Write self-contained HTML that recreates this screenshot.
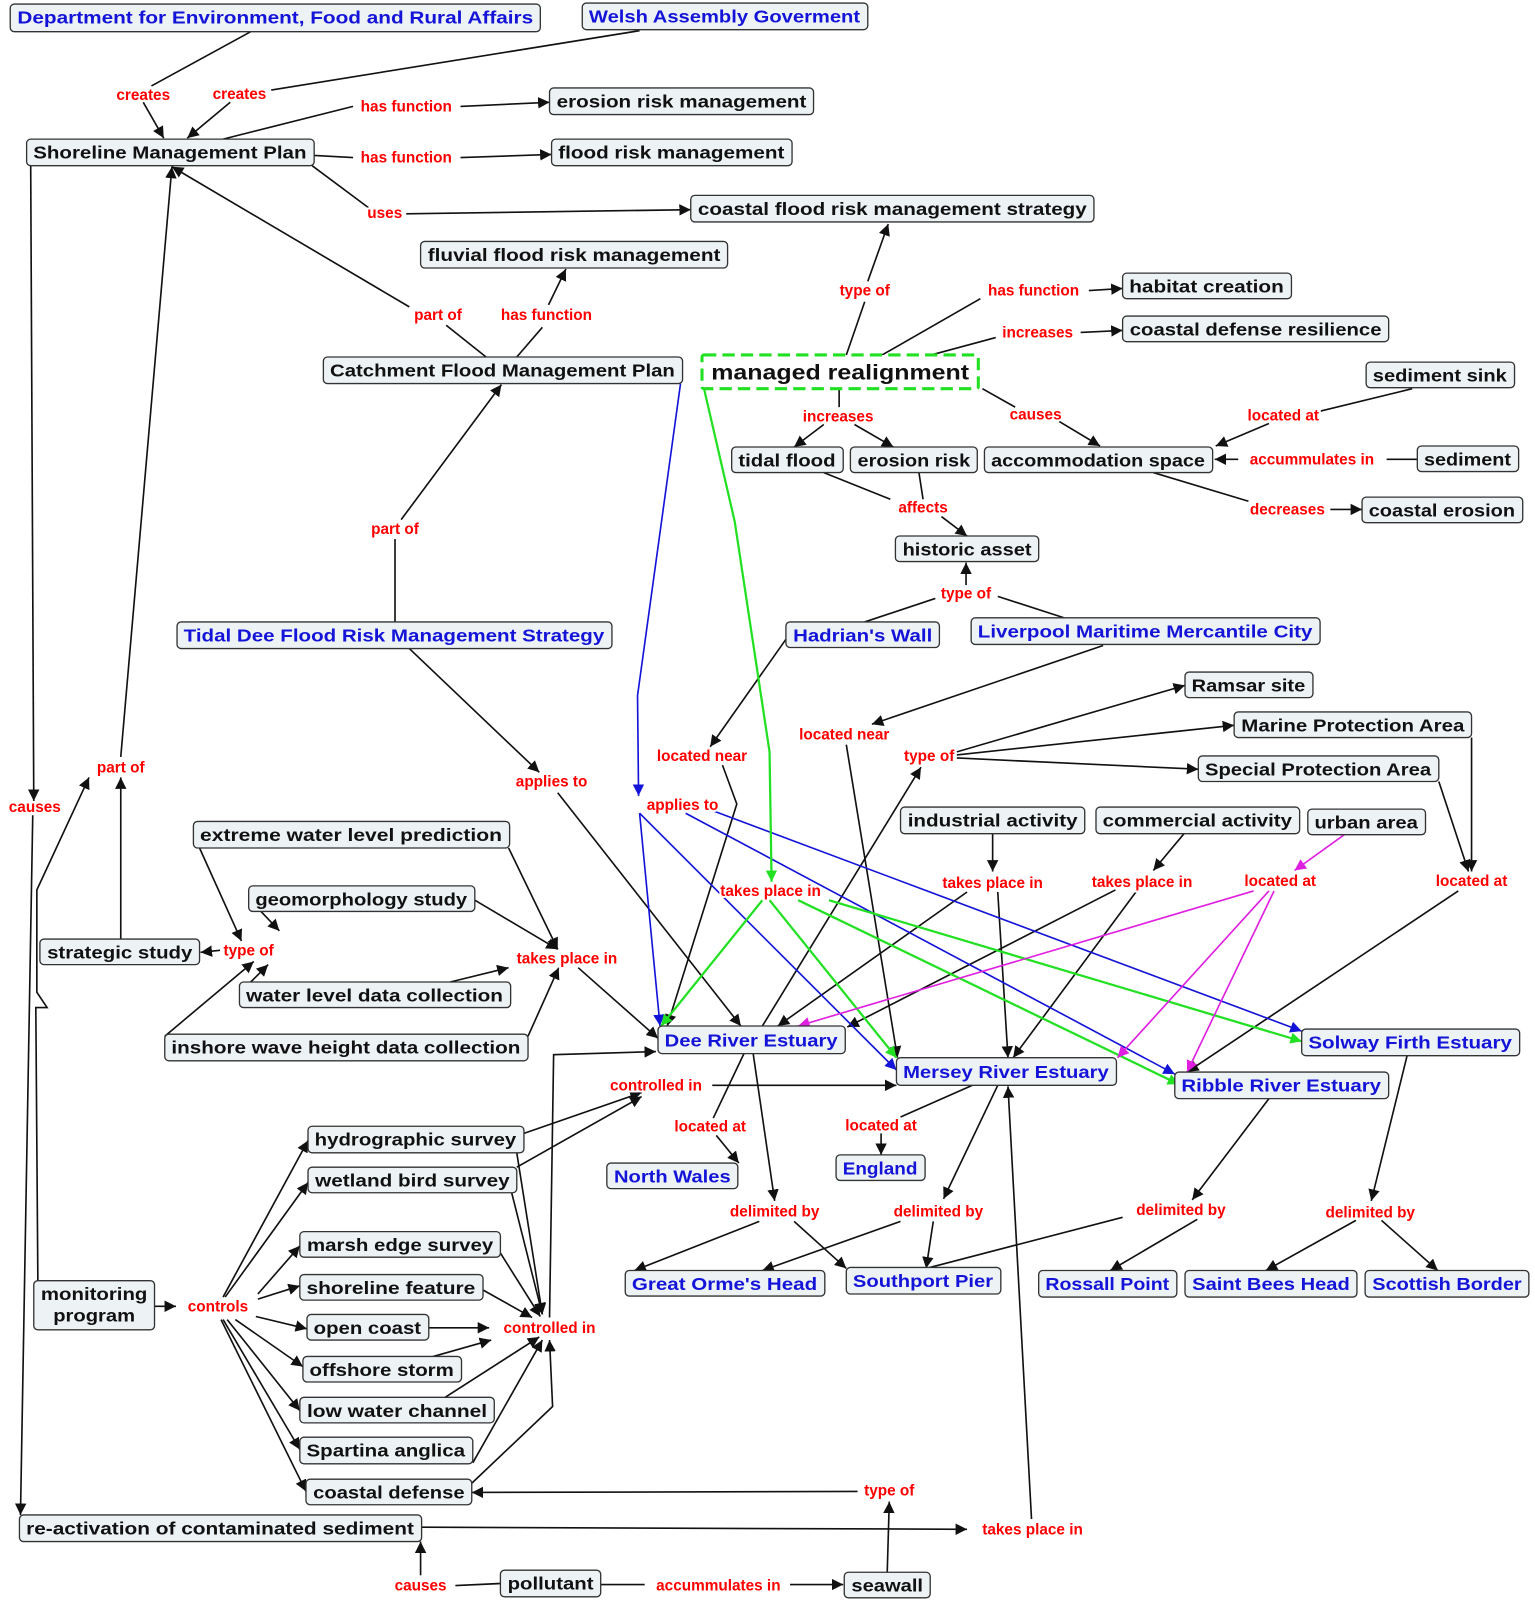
<!DOCTYPE html>
<html><head><meta charset="utf-8"><style>
html,body{margin:0;padding:0;background:#fff}
svg{display:block}
.n{fill:#edf2f5;stroke:#333;stroke-width:1.3}
.t{font-family:"Liberation Sans",sans-serif;font-weight:bold;font-size:17px;text-anchor:middle}
.k{fill:#111}.b{fill:#1414d8}
.l{font-family:"Liberation Sans",sans-serif;font-weight:bold;font-size:15px;fill:#f00;text-anchor:middle;stroke:#fff;stroke-width:4;paint-order:stroke}
.e{stroke:#111;stroke-width:1.6;fill:none}
.eb{stroke:#1414d8;stroke-width:1.6;fill:none}
.eg{stroke:#22e022;stroke-width:2.2;fill:none}
.em{stroke:#e020e0;stroke-width:1.6;fill:none}
</style></head><body>
<svg width="1535" height="1606" viewBox="0 0 1500 1570" preserveAspectRatio="none" xmlns="http://www.w3.org/2000/svg">
<defs>
<marker id="a" viewBox="0 0 10 10" refX="10" refY="5" markerWidth="7" markerHeight="7" orient="auto"><path d="M0,0L10,5L0,10z" fill="#111"/></marker>
<marker id="ab" viewBox="0 0 10 10" refX="10" refY="5" markerWidth="7" markerHeight="7" orient="auto"><path d="M0,0L10,5L0,10z" fill="#1414d8"/></marker>
<marker id="ag" viewBox="0 0 10 10" refX="10" refY="5" markerWidth="5" markerHeight="5" orient="auto"><path d="M0,0L10,5L0,10z" fill="#22e022"/></marker>
<marker id="am" viewBox="0 0 10 10" refX="10" refY="5" markerWidth="7" markerHeight="7" orient="auto"><path d="M0,0L10,5L0,10z" fill="#e020e0"/></marker>
</defs>
<g class="e">
<path d="M245,31L148,84"/><path d="M140,100L160,135" marker-end="url(#a)"/>
<path d="M625,30L265,88"/><path d="M225,100L183,135" marker-end="url(#a)"/>
<path d="M218,136L345,104"/><path d="M450,104L537,100" marker-end="url(#a)"/>
<path d="M307,152L345,154"/><path d="M450,154L539,151" marker-end="url(#a)"/>
<path d="M305,162L360,203"/><path d="M397,209L675,205" marker-end="url(#a)"/>
<path d="M827,347L845,295"/><path d="M848,275L868,219" marker-end="url(#a)"/>
<path d="M862,347L958,292"/><path d="M1064,284L1097,282" marker-end="url(#a)"/>
<path d="M910,347L973,330"/><path d="M1056,325L1097,323" marker-end="url(#a)"/>
<path d="M475,349L436,318"/><path d="M400,300L168,163" marker-end="url(#a)"/>
<path d="M505,349L530,320"/><path d="M536,298L553,263" marker-end="url(#a)"/>
<path d="M820,381L820,398"/><path d="M805,415L776,437" marker-end="url(#a)"/><path d="M835,415L873,437" marker-end="url(#a)"/>
<path d="M960,380L992,398"/><path d="M1035,412L1075,436" marker-end="url(#a)"/>
<path d="M1380,380L1290,402"/><path d="M1240,414L1188,436" marker-end="url(#a)"/>
<path d="M1385,449L1355,449"/><path d="M1210,449L1187,449" marker-end="url(#a)"/>
<path d="M1127,462L1220,490"/><path d="M1300,498L1331,498" marker-end="url(#a)"/>
<path d="M805,462L870,488"/><path d="M898,462L902,488"/><path d="M920,505L945,524" marker-end="url(#a)"/>
<path d="M845,608L914,585"/><path d="M1040,604L975,583"/><path d="M944,572L944,550" marker-end="url(#a)"/>
<path d="M386,608L386,527"/><path d="M392,508L490,376" marker-end="url(#a)"/>
<path d="M768,625L694,730" marker-end="url(#a)"/><path d="M706,748L720,786L652,1003" marker-end="url(#a)"/>
<path d="M1078,631L852,708" marker-end="url(#a)"/><path d="M827,728L877,1034" marker-end="url(#a)"/>
<path d="M745,1003L900,750" marker-end="url(#a)"/>
<path d="M935,735L1158,670" marker-end="url(#a)"/><path d="M935,738L1206,709" marker-end="url(#a)"/><path d="M935,741L1171,752" marker-end="url(#a)"/>
<path d="M400,634L527,755" marker-end="url(#a)"/><path d="M545,775L724,1003" marker-end="url(#a)"/>
<path d="M30,162L33,783" marker-end="url(#a)"/><path d="M32,797L20,1481" marker-end="url(#a)"/>
<path d="M118,918L118,760" marker-end="url(#a)"/><path d="M118,740L168,163" marker-end="url(#a)"/>
<path d="M37,1252L35,985L46,985L36,970L36,870L87,760" marker-end="url(#a)"/>
<path d="M970,815L970,852" marker-end="url(#a)"/><path d="M975,872L985,1034" marker-end="url(#a)"/>
<path d="M945,872L760,1003" marker-end="url(#a)"/>
<path d="M1157,815L1127,851" marker-end="url(#a)"/><path d="M1110,872L990,1034" marker-end="url(#a)"/><path d="M1090,870L828,1004" marker-end="url(#a)"/>
<path d="M1438,721L1438,852" marker-end="url(#a)"/><path d="M1406,764L1435,852" marker-end="url(#a)"/><path d="M1425,871L1160,1048" marker-end="url(#a)"/>
<path d="M195,829L236,920" marker-end="url(#a)"/><path d="M497,829L545,928" marker-end="url(#a)"/>
<path d="M255,891L273,910" marker-end="url(#a)"/><path d="M464,880L545,928" marker-end="url(#a)"/>
<path d="M245,960L262,943" marker-end="url(#a)"/><path d="M440,960L497,946" marker-end="url(#a)"/>
<path d="M161,1013L248,940" marker-end="url(#a)"/><path d="M516,1013L546,946" marker-end="url(#a)"/>
<path d="M215,929L196,931" marker-end="url(#a)"/>
<path d="M565,946L643,1015" marker-end="url(#a)"/>
<path d="M537,1288L541,1031L641,1028" marker-end="url(#a)"/>
<path d="M696,1061L876,1061" marker-end="url(#a)"/>
<path d="M512,1108L627,1068" marker-end="url(#a)"/><path d="M505,1141L627,1072" marker-end="url(#a)"/>
<path d="M727,1030L697,1093"/><path d="M700,1110L722,1137" marker-end="url(#a)"/>
<path d="M736,1030L757,1174" marker-end="url(#a)"/><path d="M742,1194L620,1242" marker-end="url(#a)"/><path d="M776,1194L827,1240" marker-end="url(#a)"/>
<path d="M950,1061L880,1092"/><path d="M861,1108L861,1129" marker-end="url(#a)"/>
<path d="M975,1061L922,1172" marker-end="url(#a)"/><path d="M912,1194L905,1240" marker-end="url(#a)"/><path d="M880,1194L745,1242" marker-end="url(#a)"/>
<path d="M1240,1074L1165,1173" marker-end="url(#a)"/><path d="M1097,1190L905,1240"/><path d="M1170,1192L1085,1242" marker-end="url(#a)"/>
<path d="M1375,1032L1340,1174" marker-end="url(#a)"/><path d="M1325,1193L1237,1242" marker-end="url(#a)"/><path d="M1350,1193L1405,1242" marker-end="url(#a)"/>
<path d="M151,1277L172,1277" marker-end="url(#a)"/>
<path d="M218,1268L301,1115" marker-end="url(#a)"/><path d="M220,1268L301,1156" marker-end="url(#a)"/>
<path d="M252,1265L293,1218" marker-end="url(#a)"/><path d="M252,1270L293,1257" marker-end="url(#a)"/>
<path d="M250,1287L300,1299" marker-end="url(#a)"/><path d="M230,1290L296,1336" marker-end="url(#a)"/>
<path d="M222,1290L293,1379" marker-end="url(#a)"/><path d="M218,1290L293,1417" marker-end="url(#a)"/>
<path d="M216,1290L299,1458" marker-end="url(#a)"/>
<path d="M505,1127L530,1285" marker-end="url(#a)"/><path d="M500,1166L530,1285" marker-end="url(#a)"/>
<path d="M489,1225L528,1287" marker-end="url(#a)"/><path d="M470,1260L520,1288" marker-end="url(#a)"/>
<path d="M419,1298L478,1298" marker-end="url(#a)"/><path d="M420,1327L480,1310" marker-end="url(#a)"/>
<path d="M435,1366L527,1307" marker-end="url(#a)"/><path d="M462,1430L530,1310" marker-end="url(#a)"/>
<path d="M461,1450L540,1375L537,1310" marker-end="url(#a)"/>
<path d="M838,1458L461,1459" marker-end="url(#a)"/><path d="M867,1537L869,1468" marker-end="url(#a)"/>
<path d="M412,1493L945,1495" marker-end="url(#a)"/><path d="M1008,1485L985,1062" marker-end="url(#a)"/>
<path d="M489,1548L445,1550"/><path d="M411,1540L411,1507" marker-end="url(#a)"/>
<path d="M587,1549L630,1549"/><path d="M772,1549L824,1549" marker-end="url(#a)"/>
</g>
<g class="eb">
<path d="M665,375L623,680L624,778" marker-end="url(#ab)"/>
<path d="M625,795L645,1003" marker-end="url(#ab)"/>
<path d="M625,795L876,1046" marker-end="url(#ab)"/>
<path d="M670,795L1148,1050" marker-end="url(#ab)"/>
<path d="M695,792L1272,1008" marker-end="url(#ab)"/>
</g>
<g class="eg">
<path d="M688,380L718,510L752,735L754,862" marker-end="url(#ag)"/>
<path d="M745,880L646,1003" marker-end="url(#ag)"/>
<path d="M752,880L876,1034" marker-end="url(#ag)"/>
<path d="M780,880L1152,1060" marker-end="url(#ag)"/>
<path d="M810,880L1272,1018" marker-end="url(#ag)"/>
</g>
<g class="em">
<path d="M1315,815L1265,851" marker-end="url(#am)"/>
<path d="M1225,871L780,1003" marker-end="url(#am)"/>
<path d="M1240,871L1092,1034" marker-end="url(#am)"/>
<path d="M1245,871L1160,1048" marker-end="url(#am)"/>
</g>
<g>
<rect class="n" x="10" y="4" width="518" height="27" rx="4"/><text class="t b" x="269" y="23" textLength="504" lengthAdjust="spacingAndGlyphs">Department for Environment, Food and Rural Affairs</text>
<rect class="n" x="569" y="3" width="279" height="26" rx="4"/><text class="t b" x="708" y="22" textLength="265" lengthAdjust="spacingAndGlyphs">Welsh Assembly Goverment</text>
<rect class="n" x="537" y="86" width="258" height="26" rx="4"/><text class="t k" x="666" y="105" textLength="244" lengthAdjust="spacingAndGlyphs">erosion risk management</text>
<rect class="n" x="26" y="136" width="281" height="26" rx="4"/><text class="t k" x="166" y="155" textLength="267" lengthAdjust="spacingAndGlyphs">Shoreline Management Plan</text>
<rect class="n" x="539" y="136" width="235" height="26" rx="4"/><text class="t k" x="656" y="155" textLength="221" lengthAdjust="spacingAndGlyphs">flood risk management</text>
<rect class="n" x="675" y="191" width="394" height="26" rx="4"/><text class="t k" x="872" y="210" textLength="380" lengthAdjust="spacingAndGlyphs">coastal flood risk management strategy</text>
<rect class="n" x="411" y="236" width="300" height="26" rx="4"/><text class="t k" x="561" y="255" textLength="286" lengthAdjust="spacingAndGlyphs">fluvial flood risk management</text>
<rect class="n" x="1097" y="267" width="165" height="25" rx="4"/><text class="t k" x="1179" y="286" textLength="151" lengthAdjust="spacingAndGlyphs">habitat creation</text>
<rect class="n" x="1097" y="309" width="260" height="25" rx="4"/><text class="t k" x="1227" y="328" textLength="246" lengthAdjust="spacingAndGlyphs">coastal defense resilience</text>
<rect class="n" x="316" y="349" width="351" height="26" rx="4"/><text class="t k" x="491" y="368" textLength="337" lengthAdjust="spacingAndGlyphs">Catchment Flood Management Plan</text>
<rect x="686" y="347" width="270" height="33" rx="2" fill="#fff" stroke="#22e022" stroke-width="3" stroke-dasharray="12,6"/><text class="t k" x="821" y="371" style="font-size:21px" textLength="252" lengthAdjust="spacingAndGlyphs">managed realignment</text>
<rect class="n" x="1335" y="354" width="145" height="25" rx="4"/><text class="t k" x="1407" y="373" textLength="131" lengthAdjust="spacingAndGlyphs">sediment sink</text>
<rect class="n" x="715" y="437" width="109" height="25" rx="4"/><text class="t k" x="769" y="456" textLength="95" lengthAdjust="spacingAndGlyphs">tidal flood</text>
<rect class="n" x="831" y="437" width="124" height="25" rx="4"/><text class="t k" x="893" y="456" textLength="110" lengthAdjust="spacingAndGlyphs">erosion risk</text>
<rect class="n" x="962" y="437" width="223" height="25" rx="4"/><text class="t k" x="1073" y="456" textLength="209" lengthAdjust="spacingAndGlyphs">accommodation space</text>
<rect class="n" x="1385" y="436" width="99" height="25" rx="4"/><text class="t k" x="1434" y="455" textLength="85" lengthAdjust="spacingAndGlyphs">sediment</text>
<rect class="n" x="1331" y="486" width="157" height="25" rx="4"/><text class="t k" x="1409" y="505" textLength="143" lengthAdjust="spacingAndGlyphs">coastal erosion</text>
<rect class="n" x="875" y="524" width="140" height="25" rx="4"/><text class="t k" x="945" y="543" textLength="126" lengthAdjust="spacingAndGlyphs">historic asset</text>
<rect class="n" x="768" y="608" width="150" height="25" rx="4"/><text class="t b" x="843" y="627" textLength="136" lengthAdjust="spacingAndGlyphs">Hadrian's Wall</text>
<rect class="n" x="949" y="604" width="341" height="26" rx="4"/><text class="t b" x="1119" y="623" textLength="327" lengthAdjust="spacingAndGlyphs">Liverpool Maritime Mercantile City</text>
<rect class="n" x="173" y="608" width="425" height="26" rx="4"/><text class="t b" x="385" y="627" textLength="411" lengthAdjust="spacingAndGlyphs">Tidal Dee Flood Risk Management Strategy</text>
<rect class="n" x="1158" y="657" width="125" height="25" rx="4"/><text class="t k" x="1220" y="676" textLength="111" lengthAdjust="spacingAndGlyphs">Ramsar site</text>
<rect class="n" x="1206" y="696" width="232" height="25" rx="4"/><text class="t k" x="1322" y="715" textLength="218" lengthAdjust="spacingAndGlyphs">Marine Protection Area</text>
<rect class="n" x="1171" y="739" width="235" height="25" rx="4"/><text class="t k" x="1288" y="758" textLength="221" lengthAdjust="spacingAndGlyphs">Special Protection Area</text>
<rect class="n" x="880" y="789" width="180" height="26" rx="4"/><text class="t k" x="970" y="808" textLength="166" lengthAdjust="spacingAndGlyphs">industrial activity</text>
<rect class="n" x="1071" y="789" width="199" height="26" rx="4"/><text class="t k" x="1170" y="808" textLength="185" lengthAdjust="spacingAndGlyphs">commercial activity</text>
<rect class="n" x="1278" y="791" width="115" height="25" rx="4"/><text class="t k" x="1335" y="810" textLength="101" lengthAdjust="spacingAndGlyphs">urban area</text>
<rect class="n" x="189" y="803" width="309" height="26" rx="4"/><text class="t k" x="343" y="822" textLength="295" lengthAdjust="spacingAndGlyphs">extreme water level prediction</text>
<rect class="n" x="243" y="866" width="221" height="25" rx="4"/><text class="t k" x="353" y="885" textLength="207" lengthAdjust="spacingAndGlyphs">geomorphology study</text>
<rect class="n" x="39" y="918" width="156" height="25" rx="4"/><text class="t k" x="117" y="937" textLength="142" lengthAdjust="spacingAndGlyphs">strategic study</text>
<rect class="n" x="234" y="960" width="265" height="25" rx="4"/><text class="t k" x="366" y="979" textLength="251" lengthAdjust="spacingAndGlyphs">water level data collection</text>
<rect class="n" x="161" y="1011" width="355" height="26" rx="4"/><text class="t k" x="338" y="1030" textLength="341" lengthAdjust="spacingAndGlyphs">inshore wave height data collection</text>
<rect class="n" x="643" y="1003" width="183" height="27" rx="4"/><text class="t b" x="734" y="1023" textLength="169" lengthAdjust="spacingAndGlyphs">Dee River Estuary</text>
<rect class="n" x="1272" y="1006" width="213" height="26" rx="4"/><text class="t b" x="1378" y="1025" textLength="199" lengthAdjust="spacingAndGlyphs">Solway Firth Estuary</text>
<rect class="n" x="876" y="1034" width="215" height="27" rx="4"/><text class="t b" x="983" y="1054" textLength="201" lengthAdjust="spacingAndGlyphs">Mersey River Estuary</text>
<rect class="n" x="1148" y="1048" width="209" height="26" rx="4"/><text class="t b" x="1252" y="1067" textLength="195" lengthAdjust="spacingAndGlyphs">Ribble River Estuary</text>
<rect class="n" x="301" y="1101" width="211" height="26" rx="4"/><text class="t k" x="406" y="1120" textLength="197" lengthAdjust="spacingAndGlyphs">hydrographic survey</text>
<rect class="n" x="593" y="1137" width="128" height="25" rx="4"/><text class="t b" x="657" y="1156" textLength="114" lengthAdjust="spacingAndGlyphs">North Wales</text>
<rect class="n" x="817" y="1129" width="87" height="25" rx="4"/><text class="t b" x="860" y="1148" textLength="73" lengthAdjust="spacingAndGlyphs">England</text>
<rect class="n" x="301" y="1141" width="204" height="25" rx="4"/><text class="t k" x="403" y="1160" textLength="190" lengthAdjust="spacingAndGlyphs">wetland bird survey</text>
<rect class="n" x="293" y="1204" width="196" height="25" rx="4"/><text class="t k" x="391" y="1223" textLength="182" lengthAdjust="spacingAndGlyphs">marsh edge survey</text>
<rect class="n" x="611" y="1242" width="195" height="25" rx="4"/><text class="t b" x="708" y="1261" textLength="181" lengthAdjust="spacingAndGlyphs">Great Orme's Head</text>
<rect class="n" x="827" y="1239" width="151" height="26" rx="4"/><text class="t b" x="902" y="1258" textLength="137" lengthAdjust="spacingAndGlyphs">Southport Pier</text>
<rect class="n" x="1015" y="1242" width="135" height="26" rx="4"/><text class="t b" x="1082" y="1261" textLength="121" lengthAdjust="spacingAndGlyphs">Rossall Point</text>
<rect class="n" x="1158" y="1242" width="168" height="26" rx="4"/><text class="t b" x="1242" y="1261" textLength="154" lengthAdjust="spacingAndGlyphs">Saint Bees Head</text>
<rect class="n" x="1334" y="1242" width="160" height="26" rx="4"/><text class="t b" x="1414" y="1261" textLength="146" lengthAdjust="spacingAndGlyphs">Scottish Border</text>
<rect class="n" x="293" y="1246" width="179" height="25" rx="4"/><text class="t k" x="382" y="1265" textLength="165" lengthAdjust="spacingAndGlyphs">shoreline feature</text>
<rect class="n" x="33" y="1252" width="118" height="48" rx="4"/><text class="t k" x="92" y="1271" textLength="104" lengthAdjust="spacingAndGlyphs">monitoring</text><text class="t k" x="92" y="1292" textLength="80" lengthAdjust="spacingAndGlyphs">program</text>
<rect class="n" x="300" y="1285" width="119" height="25" rx="4"/><text class="t k" x="359" y="1304" textLength="105" lengthAdjust="spacingAndGlyphs">open coast</text>
<rect class="n" x="296" y="1326" width="155" height="25" rx="4"/><text class="t k" x="373" y="1345" textLength="141" lengthAdjust="spacingAndGlyphs">offshore storm</text>
<rect class="n" x="293" y="1366" width="190" height="25" rx="4"/><text class="t k" x="388" y="1385" textLength="176" lengthAdjust="spacingAndGlyphs">low water channel</text>
<rect class="n" x="293" y="1405" width="169" height="26" rx="4"/><text class="t k" x="377" y="1424" textLength="155" lengthAdjust="spacingAndGlyphs">Spartina anglica</text>
<rect class="n" x="299" y="1446" width="162" height="25" rx="4"/><text class="t k" x="380" y="1465" textLength="148" lengthAdjust="spacingAndGlyphs">coastal defense</text>
<rect class="n" x="19" y="1481" width="393" height="26" rx="4"/><text class="t k" x="215" y="1500" textLength="379" lengthAdjust="spacingAndGlyphs">re-activation of contaminated sediment</text>
<rect class="n" x="489" y="1535" width="98" height="26" rx="4"/><text class="t k" x="538" y="1554" textLength="84" lengthAdjust="spacingAndGlyphs">pollutant</text>
<rect class="n" x="825" y="1537" width="84" height="25" rx="4"/><text class="t k" x="867" y="1556" textLength="70" lengthAdjust="spacingAndGlyphs">seawall</text>
</g>
<g class="l">
<text x="140" y="98">creates</text><text x="234" y="97">creates</text>
<text x="397" y="109">has function</text><text x="397" y="159">has function</text>
<text x="376" y="213">uses</text>
<text x="845" y="289">type of</text><text x="1010" y="289">has function</text><text x="1014" y="330">increases</text>
<text x="428" y="313">part of</text><text x="534" y="313">has function</text>
<text x="819" y="412">increases</text><text x="1012" y="410">causes</text><text x="1254" y="411">located at</text>
<text x="1282" y="454">accummulates in</text><text x="902" y="501">affects</text><text x="1258" y="503">decreases</text>
<text x="944" y="585">type of</text><text x="386" y="522">part of</text>
<text x="686" y="744">located near</text><text x="825" y="723">located near</text><text x="908" y="744">type of</text>
<text x="539" y="769">applies to</text><text x="667" y="792">applies to</text>
<text x="118" y="755">part of</text><text x="34" y="794">causes</text>
<text x="970" y="868">takes place in</text><text x="1116" y="867">takes place in</text>
<text x="1251" y="866">located at</text><text x="1438" y="866">located at</text>
<text x="753" y="876">takes place in</text><text x="243" y="934">type of</text><text x="554" y="942">takes place in</text>
<text x="641" y="1066">controlled in</text>
<text x="694" y="1106">located at</text><text x="861" y="1105">located at</text>
<text x="757" y="1189">delimited by</text><text x="917" y="1189">delimited by</text>
<text x="1154" y="1188">delimited by</text><text x="1339" y="1190">delimited by</text>
<text x="213" y="1282">controls</text><text x="537" y="1303">controlled in</text>
<text x="869" y="1462">type of</text><text x="1009" y="1500">takes place in</text>
<text x="411" y="1555">causes</text><text x="702" y="1555">accummulates in</text>
</g>
</svg>
</body></html>
